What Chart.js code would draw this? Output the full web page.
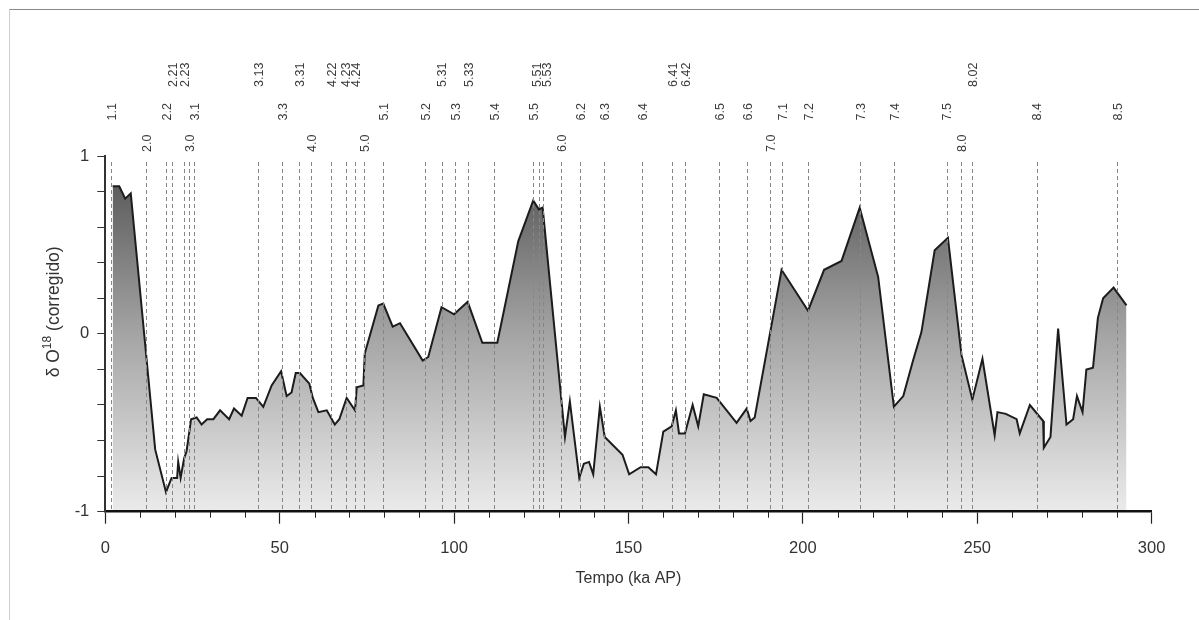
<!DOCTYPE html>
<html>
<head>
<meta charset="utf-8">
<title>δO18 corregido</title>
<script src="https://cdn.jsdelivr.net/npm/chart.js@4.4.1/dist/chart.umd.min.js"></script>
<style>
  html, body { margin: 0; padding: 0; background: #ffffff; }
  #wrap { position: relative; width: 1199px; height: 620px; overflow: hidden; }
  #frame { position: absolute; left: 9px; top: 9px; right: -2px; bottom: -2px;
           border-top: 1px solid #8a8a8a; border-left: 1px solid #cfcfcf; }
  canvas { position: absolute; left: 0; top: 0; }
</style>
</head>
<body>
<div id="wrap">
  <div id="frame"></div>
  <canvas id="c" width="1199" height="620"></canvas>
</div>
<script>
// Tempo (ka AP) and corrected δ18O values of the record
const ageKa = [
  2.1, 4.0, 5.7, 7.3, 14.3, 17.4, 19.0, 20.6, 20.9, 21.6,
  22.6, 23.3, 24.6, 26.2, 27.6, 29.2, 31.0, 32.9, 35.5, 36.9,
  39.1, 40.8, 43.2, 45.3, 47.7, 50.4, 52.0, 53.4, 54.6, 55.8,
  58.5, 59.5, 61.1, 63.5, 65.8, 67.1, 69.2, 71.6, 72.1, 74.0,
  74.4, 78.3, 79.7, 82.4, 84.5, 91.0, 92.6, 96.4, 100.0, 103.9,
  108.1, 112.4, 118.4, 122.7, 124.3, 125.4, 131.8, 133.2, 135.9, 137.2,
  138.7, 139.9, 141.8, 143.2, 148.3, 150.2, 153.5, 155.7, 157.9, 160.0,
  162.4, 163.6, 164.5, 166.2, 168.4, 170.0, 171.6, 175.3, 181.0, 183.9,
  185.0, 186.2, 193.9, 201.5, 206.1, 211.1, 216.3, 221.6, 226.1, 228.8,
  231.6, 234.0, 237.8, 241.6, 245.5, 248.6, 251.5, 255.0, 255.8, 258.2,
  261.3, 262.2, 265.1, 268.9, 269.1, 271.0, 273.2, 275.6, 277.5, 278.6,
  280.2, 281.3, 283.2, 284.6, 286.1, 289.1, 292.8
];
const d18O = [
  0.83, 0.83, 0.76, 0.79, -0.65, -0.89, -0.81, -0.81, -0.72, -0.81,
  -0.70, -0.66, -0.48, -0.47, -0.51, -0.48, -0.48, -0.43, -0.48, -0.42,
  -0.46, -0.36, -0.36, -0.41, -0.29, -0.21, -0.35, -0.33, -0.22, -0.22,
  -0.28, -0.36, -0.44, -0.43, -0.51, -0.48, -0.36, -0.43, -0.30, -0.29,
  -0.11, 0.16, 0.17, 0.04, 0.06, -0.15, -0.13, 0.15, 0.11, 0.18,
  -0.05, -0.05, 0.52, 0.75, 0.70, 0.71, -0.58, -0.38, -0.81, -0.73,
  -0.72, -0.79, -0.41, -0.58, -0.68, -0.79, -0.75, -0.75, -0.79, -0.55,
  -0.52, -0.43, -0.56, -0.56, -0.40, -0.52, -0.34, -0.36, -0.50, -0.42,
  -0.49, -0.47, 0.36, 0.13, 0.36, 0.41, 0.71, 0.32, -0.41, -0.35,
  -0.15, 0.01, 0.47, 0.54, -0.12, -0.37, -0.14, -0.57, -0.44, -0.45,
  -0.48, -0.56, -0.40, -0.49, -0.64, -0.58, 0.03, -0.51, -0.48, -0.35,
  -0.44, -0.20, -0.19, 0.09, 0.20, 0.26, 0.16
];

// Marine isotope stage / event boundaries (ka) and their names
const stageKa = [
  1.6, 11.7, 17.4, 19.0, 22.6, 24.0, 25.4, 43.9, 50.6, 55.6,
  59.0, 64.6, 69.0, 71.6, 74.2, 79.5, 91.6, 96.4, 100.2, 103.9,
  111.4, 122.7, 124.3, 125.5, 130.8, 136.1, 143.0, 153.8, 162.6, 166.3,
  176.0, 184.0, 190.5, 194.1, 201.5, 216.3, 226.2, 241.2, 245.3, 248.6,
  267.0, 290.1
];
const stageLabel = [
  "1.1", "2.0", "2.2", "2.21", "2.23", "3.0", "3.1", "3.13", "3.3", "3.31",
  "4.0", "4.22", "4.23", "4.24", "5.0", "5.1", "5.2", "5.31", "5.3", "5.33",
  "5.4", "5.5", "5.51", "5.53", "6.0", "6.2", "6.3", "6.4", "6.41", "6.42",
  "6.5", "6.6", "7.0", "7.1", "7.2", "7.3", "7.4", "7.5", "8.0", "8.02",
  "8.4", "8.5"
];

// Axis settings
const xMin = 0, xMax = 300, xMajorStep = 50, xMinorStep = 10;
const yMin = -1, yMax = 1, yStep = 0.2;
const yLabelled = [-1, 0, 1];

const xTitle = "Tempo (ka AP)";
const yTitleParts = ["δ O", "18", " (corregido)"];

const FONT = '"Liberation Sans", Arial, sans-serif';
const TEXT = '#333333';

// Dashed boundaries, rotated stage names, minor ticks and axis titles
const annotations = {
  id: 'annotations',
  afterDatasetsDraw(chart) {
    const { ctx, chartArea: a, scales: { x } } = chart;
    ctx.save();
    ctx.setLineDash([4, 3]);
    ctx.strokeStyle = '#868686';
    ctx.lineWidth = 1;
    stageKa.forEach(k => {
      const px = Math.round(x.getPixelForValue(k)) + 0.5;
      ctx.beginPath();
      ctx.moveTo(px, a.top + 6);
      ctx.lineTo(px, a.bottom - 1);
      ctx.stroke();
    });
    ctx.restore();
  },
  afterDraw(chart) {
    const { ctx, chartArea: a, scales: { x } } = chart;
    ctx.save();

    // stage names: whole stages low, sub-stages middle, events on top
    const rowStart = [a.top - 69, a.top - 35.5, a.top - 4];
    const rows = [[], [], []];
    stageLabel.forEach((lab, i) => {
      const dec = lab.split('.')[1];
      const r = dec === '0' ? 2 : (dec.length === 2 ? 0 : 1);
      rows[r].push({ lab, px: x.getPixelForValue(stageKa[i]) + 1.5 });
    });
    const gap = 10;
    rows.forEach(items => {
      items.sort((p, q) => p.px - q.px);
      let i = 0;
      while (i < items.length) {
        let j = i;
        while (j + 1 < items.length && items[j + 1].px - items[j].px < gap) j++;
        if (j > i) {
          const mean = items.slice(i, j + 1).reduce((s, it) => s + it.px, 0) / (j - i + 1);
          for (let k = i; k <= j; k++) items[k].px = mean + (k - i - (j - i) / 2) * gap;
        }
        i = j + 1;
      }
    });
    ctx.fillStyle = '#3a3a3a';
    ctx.font = '12.5px "Liberation Sans", Arial, sans-serif';
    ctx.textAlign = 'left';
    ctx.textBaseline = 'middle';
    rows.forEach((items, r) => {
      items.forEach(it => {
        ctx.save();
        ctx.translate(it.px, rowStart[r]);
        ctx.rotate(-Math.PI / 2);
        ctx.fillText(it.lab, 0, 0);
        ctx.restore();
      });
    });

    // minor ticks on the time axis
    ctx.strokeStyle = '#222';
    ctx.lineWidth = 1;
    for (let v = xMin + xMinorStep; v < xMax; v += xMinorStep) {
      if (v % xMajorStep === 0) continue;
      const px = Math.round(x.getPixelForValue(v)) + 0.5;
      ctx.beginPath();
      ctx.moveTo(px, a.bottom);
      ctx.lineTo(px, a.bottom + 6);
      ctx.stroke();
    }

    // axis titles
    ctx.fillStyle = TEXT;
    ctx.font = '16px ' + FONT;
    ctx.textAlign = 'center';
    ctx.textBaseline = 'middle';
    ctx.fillText(xTitle, (a.left + a.right) / 2, a.bottom + 67);

    ctx.save();
    ctx.translate(a.left - 51, (a.top + a.bottom) / 2 - 22);
    ctx.rotate(-Math.PI / 2);
    const big = '17.5px ' + FONT, small = '12px ' + FONT;
    ctx.font = big; const w0 = ctx.measureText(yTitleParts[0]).width;
    ctx.font = small; const w1 = ctx.measureText(yTitleParts[1]).width;
    ctx.font = big; const w2 = ctx.measureText(yTitleParts[2]).width;
    let sx = -(w0 + w1 + w2) / 2;
    ctx.textAlign = 'left';
    ctx.font = big; ctx.fillText(yTitleParts[0], sx, 0); sx += w0;
    ctx.font = small; ctx.fillText(yTitleParts[1], sx, -7); sx += w1;
    ctx.font = big; ctx.fillText(yTitleParts[2], sx, 0);
    ctx.restore();

    ctx.restore();
  }
};

new Chart(document.getElementById('c'), {
  type: 'line',
  data: {
    datasets: [{
      data: ageKa.map((k, i) => ({ x: k, y: d18O[i] })),
      borderColor: '#1c1c1c',
      borderWidth: 2,
      pointRadius: 0,
      tension: 0,
      fill: 'start',
      backgroundColor(context) {
        const a = context.chart.chartArea;
        if (!a) return '#999';
        const g = context.chart.ctx.createLinearGradient(0, a.top, 0, a.bottom);
        g.addColorStop(0, '#4f4f4f');
        g.addColorStop(0.5, '#a4a4a4');
        g.addColorStop(1, '#ebebeb');
        return g;
      }
    }]
  },
  options: {
    responsive: false,
    devicePixelRatio: 1,
    animation: false,
    events: [],
    layout: { padding: { left: 0, right: 47.4, top: 156, bottom: 0 } },
    plugins: { legend: { display: false }, tooltip: { enabled: false } },
    scales: {
      x: {
        type: 'linear',
        min: xMin, max: xMax,
        afterFit(s) { s.height = 108.3; },
        border: { display: true, color: '#111', width: 2.5, z: 1 },
        grid: { drawOnChartArea: false, drawTicks: true, tickLength: 12, tickColor: '#222', tickWidth: 1.2 },
        ticks: {
          stepSize: xMajorStep,
          padding: 15,
          color: TEXT,
          font: { family: FONT, size: 16.5 },
          maxRotation: 0
        }
      },
      y: {
        min: yMin, max: yMax,
        afterFit(s) { s.width = 105.3; },
        border: { display: true, color: '#333', width: 2, z: 1 },
        grid: { drawOnChartArea: false, drawTicks: true, tickLength: 8, tickColor: '#333', tickWidth: 1 },
        ticks: {
          stepSize: yStep,
          padding: 8,
          color: TEXT,
          font: { family: FONT, size: 16.5 },
          callback(v) {
            const hit = yLabelled.find(t => Math.abs(t - v) < 1e-6);
            return hit === undefined ? '' : String(hit);
          }
        }
      }
    }
  },
  plugins: [annotations]
});
</script>
</body>
</html>
